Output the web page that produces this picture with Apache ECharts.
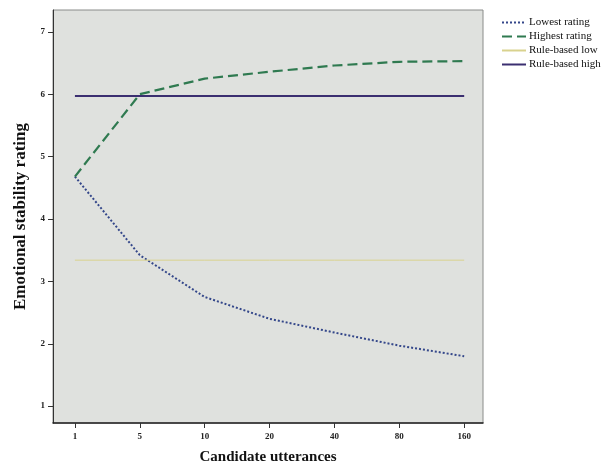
<!DOCTYPE html>
<html><head><meta charset="utf-8">
<script src="https://cdn.jsdelivr.net/npm/echarts@6/dist/echarts.min.js"></script>
<style>html,body{margin:0;padding:0;background:#fff;}#c{width:616px;height:470px;}</style>
</head><body><div id="c"></div>
<script>
const categories = ['1','5','10','20','40','80','160'];
const lowestRating = [4.68, 3.42, 2.75, 2.40, 2.18, 1.97, 1.80];
const highestRating = [4.68, 6.00, 6.25, 6.36, 6.46, 6.52, 6.53];
const ruleBasedLow = [3.34, 3.34, 3.34, 3.34, 3.34, 3.34, 3.34];
const ruleBasedHigh = [5.97, 5.97, 5.97, 5.97, 5.97, 5.97, 5.97];
const yTicks = [1,2,3,4,5,6,7];

const toPairs = arr => arr.map((v,i)=>[i,v]);
const serif = 'Liberation Serif';
const chart = echarts.init(document.getElementById('c'));
chart.setOption({
  animation:false,
  textStyle:{fontFamily:serif},
  grid:{left:53,right:133,top:10,bottom:45,show:true,backgroundColor:'#dfe1de',borderColor:'#8a8c8a',borderWidth:1},
  legend:{
    orient:'vertical', left:496, top:12, itemGap:3, itemWidth:24, itemHeight:10,
    itemStyle:{opacity:0},
    textStyle:{fontFamily:serif,fontSize:11,color:'#111',padding:[0,0,0,-2]},
    data:['Lowest rating','Highest rating','Rule-based low','Rule-based high']
  },
  xAxis:{
    type:'value', min:-0.338, max:6.29, interval:1,
    name:'Candidate utterances', nameLocation:'middle', nameGap:27,
    nameTextStyle:{fontFamily:serif,fontSize:15,fontWeight:'bold',color:'#111'},
    axisLine:{show:true,onZero:false,lineStyle:{color:'#222',width:1.5}},
    axisTick:{show:true,length:5,lineStyle:{color:'#333'},customValues:[0,1,2,3,4,5,6]},
    axisLabel:{fontFamily:serif,fontSize:9,fontWeight:'bold',color:'#222',margin:9,
      customValues:[0,1,2,3,4,5,6],
      formatter:v=>categories[Math.round(v)]},
    splitLine:{show:false}
  },
  yAxis:{
    type:'value', min:0.73, max:7.35,
    name:'Emotional stability rating', nameLocation:'middle', nameGap:23,
    nameTextStyle:{fontFamily:serif,fontSize:17,fontWeight:'bold',color:'#111'},
    axisLine:{show:true,onZero:false,lineStyle:{color:'#333',width:1}},
    axisTick:{show:true,length:5,lineStyle:{color:'#333'},customValues:yTicks},
    axisLabel:{fontFamily:serif,fontSize:9,fontWeight:'bold',color:'#222',margin:8,customValues:yTicks},
    splitLine:{show:false}
  },
  series:[
    {name:'Lowest rating',type:'line',symbol:'none',data:toPairs(lowestRating),
      lineStyle:{color:'#34478a',width:2,type:[2,2]},itemStyle:{color:'#34478a'}},
    {name:'Highest rating',type:'line',symbol:'none',data:toPairs(highestRating),
      lineStyle:{color:'#2f7a50',width:2.2,type:[10,5]},itemStyle:{color:'#2f7a50'}},
    {name:'Rule-based low',type:'line',symbol:'none',data:toPairs(ruleBasedLow),
      lineStyle:{color:'#d9d28e',width:1},itemStyle:{color:'#d9d28e'}},
    {name:'Rule-based high',type:'line',symbol:'none',data:toPairs(ruleBasedHigh),
      lineStyle:{color:'#3b2f70',width:2},itemStyle:{color:'#3b2f70'}}
  ]
});
</script></body></html>
